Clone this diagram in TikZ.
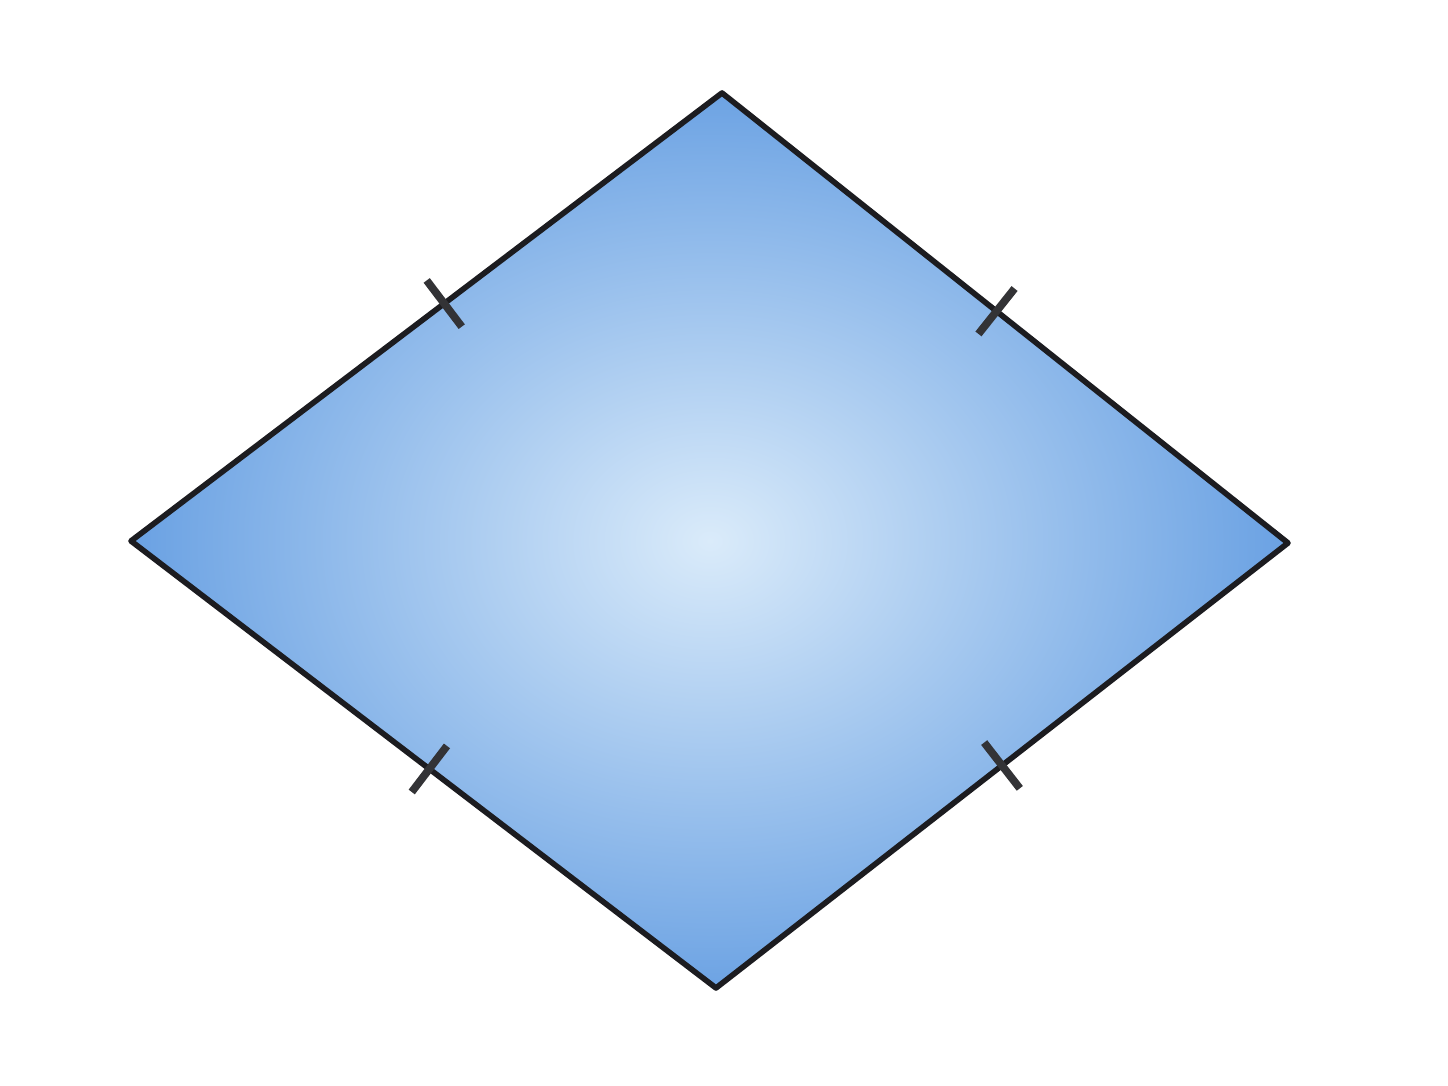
\documentclass[tikz,border=0pt]{standalone}
\usetikzlibrary{calc}
\definecolor{edgeblue}{RGB}{92,152,224}
\definecolor{midblue}{RGB}{218,235,250}
\definecolor{inkline}{RGB}{28,28,32}
\tikzset{
  rhomb/.style={draw=inkline, line width=1.6pt, line join=round},
  tickmark/.style={draw=inkline!90, line width=2.2pt, line cap=butt}
}
\begin{document}
\begin{tikzpicture}
\useasboundingbox[fill=white] (0,0) rectangle (14.48,10.86);
\coordinate (T) at (7.22,9.93);
\coordinate (R) at (12.88,5.43);
\coordinate (B) at (7.16,0.98);
\coordinate (L) at (1.31,5.45);
\begin{scope}
  \clip (T) -- (R) -- (B) -- (L) -- cycle;
  \shade[inner color=midblue, outer color=edgeblue] (0.6,0.3) rectangle (13.6,10.6);
\end{scope}
\draw[rhomb] (T) -- (R) -- (B) -- (L) -- cycle;
\coordinate (m1) at ($(L)!0.53!(T)$);
\coordinate (m2) at ($(T)!0.485!(R)$);
\coordinate (m3) at ($(L)!0.51!(B)$);
\coordinate (m4) at ($(B)!0.5!(R)$);
\foreach \m/\a in {m1/T, m2/R, m3/B, m4/R}{
  \draw[tickmark] ($(\m)!0.29cm!90:(\a)$) -- ($(\m)!0.29cm!-90:(\a)$);
}
\end{tikzpicture}
\end{document}
